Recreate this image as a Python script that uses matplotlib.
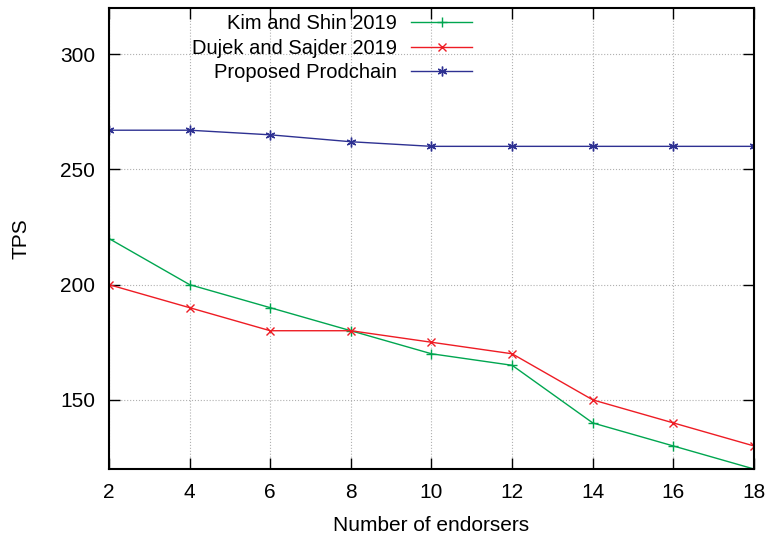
import matplotlib
matplotlib.use('Agg')
import matplotlib.pyplot as plt

plt.rcParams['font.family'] = ['Liberation Sans', 'DejaVu Sans']

endorsers = [2, 4, 6, 8, 10, 12, 14, 16, 18]
kim_shin = [220, 200, 190, 180, 170, 165, 140, 130, 120]
dujek_sajder = [200, 190, 180, 180, 175, 170, 150, 140, 130]
prodchain = [267, 267, 265, 262, 260, 260, 260, 260, 260]

fig = plt.figure(figsize=(7.69, 5.37), dpi=100)
ax = fig.add_axes([0.1417, 0.1266, 0.8388, 0.8584])

ax.plot(endorsers, kim_shin, color='#00a650', lw=1, marker='+', ms=7, mew=1, label='Kim and Shin 2019')
ax.plot(endorsers, dujek_sajder, color='#ee1c24', lw=1, marker='x', ms=6, mew=1, label='Dujek and Sajder 2019')
ax.plot(endorsers, prodchain, color='#2e3192', lw=1, marker=(6, 2, 0), ms=7, mew=1, label='Proposed Prodchain')

ax.set_xlim(2, 18)
ax.set_ylim(120, 320)
ax.set_xticks(endorsers)
ax.set_yticks([150, 200, 250, 300])
ax.tick_params(direction='in', top=True, right=True, labelsize=15, length=8, width=1, pad=10)
ax.grid(True, color='#b0b0b0', linestyle=':', linewidth=0.8)
for s in ax.spines.values():
    s.set_linewidth(1.5)

ax.set_xlabel('Number of endorsers', fontsize=15, labelpad=10)
ax.set_ylabel('TPS', fontsize=15, labelpad=21)

ax.legend(loc='upper right', bbox_to_anchor=(0.575, 1.004), frameon=False, markerfirst=False,
          fontsize=14.5, handlelength=3.0, labelspacing=0.27, handletextpad=0.7, borderaxespad=0.0)

fig.savefig('out.png', dpi=100)
